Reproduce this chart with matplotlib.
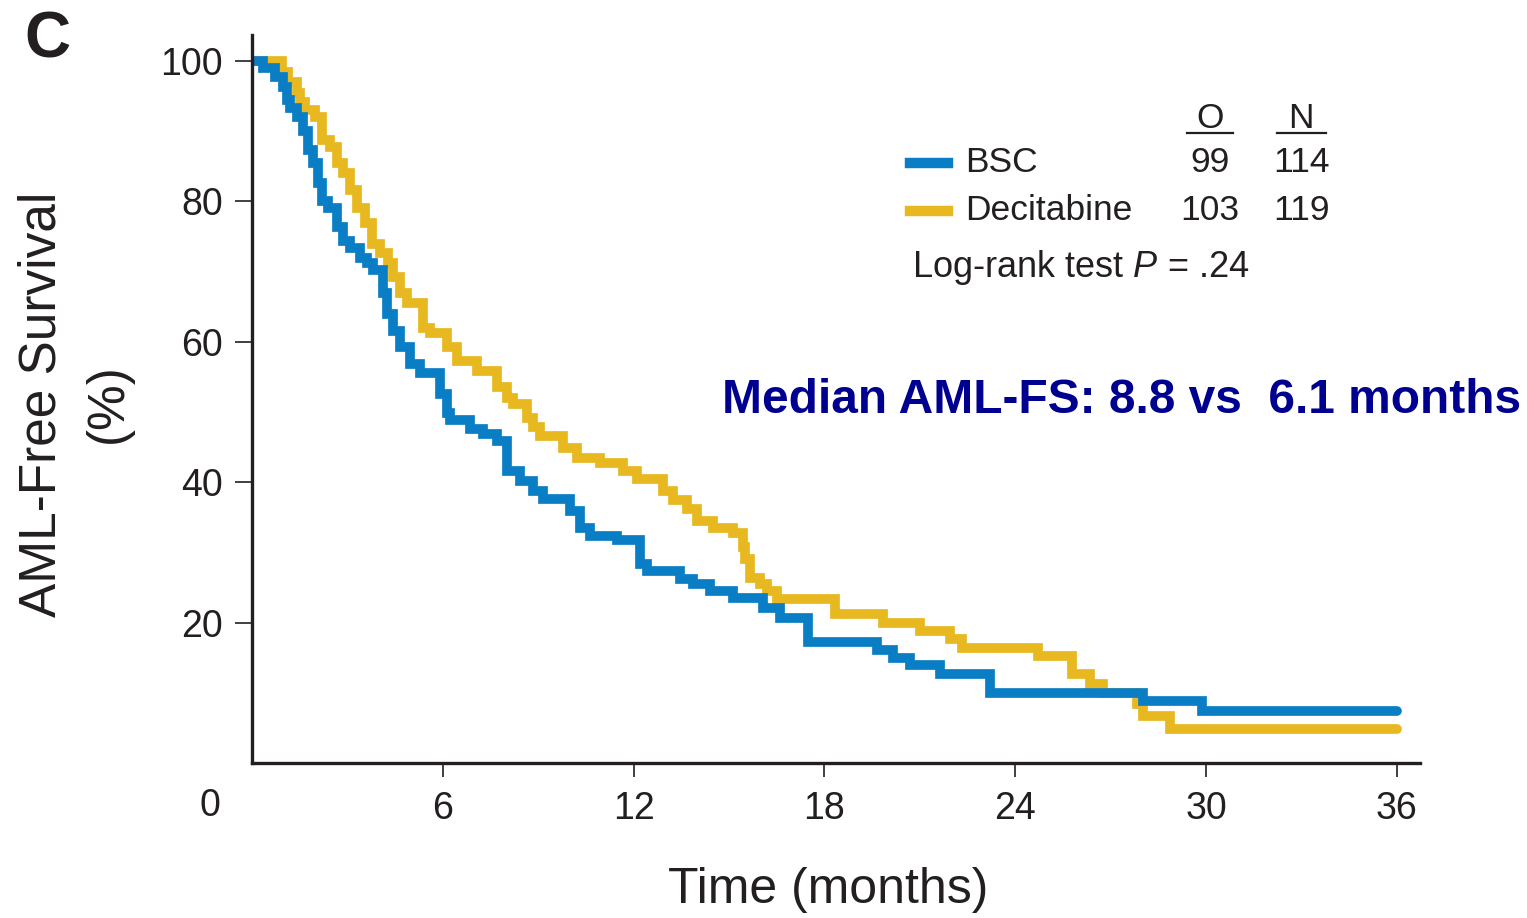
# Kaplan-Meier style AML-free survival, BSC vs Decitabine (panel C)
import matplotlib
matplotlib.use("Agg")
import matplotlib.pyplot as plt
from matplotlib.lines import Line2D

plt.rcParams["font.family"] = ["Liberation Sans", "DejaVu Sans"]
plt.rcParams["mathtext.fontset"] = "custom"
plt.rcParams["mathtext.rm"] = "Liberation Sans"
plt.rcParams["mathtext.it"] = "Liberation Sans:italic"

# ─────────────────────────────────────────────
# DATA: step start times (months) and survival (%)
# ─────────────────────────────────────────────
bsc_time = [0, 0.35, 0.72, 0.97, 1.10, 1.19, 1.42, 1.60, 1.76, 1.92, 2.08, 2.20,
            2.39, 2.67, 2.86, 3.08, 3.40, 3.62, 3.81, 4.12, 4.25, 4.43, 4.65,
            4.97, 5.28, 5.91, 6.13, 6.23, 6.86, 7.26, 7.70, 8.02, 8.43, 8.84,
            9.15, 10.0, 10.31, 10.63, 11.48, 12.20, 12.42, 13.46, 13.87, 14.40,
            15.13, 16.07, 16.60, 17.48, 19.65, 20.16, 20.69, 21.64, 23.21,
            28.02, 29.87]
bsc_surv = [100, 99, 97.7, 96.3, 94.4, 93.3, 92, 90, 87.3, 85.4, 82.6, 80.1,
            79.1, 76.3, 74.4, 73.4, 72, 71.2, 70.2, 66.9, 64, 61.6, 59.2,
            56.9, 55.5, 52.6, 49.8, 48.8, 47.6, 46.9, 45.9, 41.6, 40.2, 38.8,
            37.6, 35.9, 33.5, 32.4, 31.7, 28.4, 27.4, 26.2, 25.5, 24.5,
            23.5, 22.1, 20.7, 17.3, 16.1, 15.0, 14.0, 12.7, 10.0,
            8.8, 7.4]

dec_time = [0, 0.94, 1.13, 1.42, 1.51, 1.67, 1.98, 2.20, 2.45, 2.67, 2.86, 3.08,
            3.30, 3.55, 3.77, 4.03, 4.28, 4.43, 4.65, 4.87, 5.38, 5.60, 6.13,
            6.45, 7.08, 7.70, 8.02, 8.21, 8.65, 8.84, 9.06, 9.78, 10.22, 10.94,
            11.67, 12.11, 12.92, 13.24, 13.68, 13.99, 14.50, 15.13, 15.44,
            15.50, 15.66, 15.97, 16.19, 16.51, 18.33, 19.84, 21.0, 21.95,
            22.33, 24.72, 25.79, 26.35, 26.76, 27.83, 28.02, 28.87]
dec_surv = [100, 98.4, 97, 95.4, 94.1, 93, 92, 88.7, 87.7, 85.4, 84, 81.6,
            79.1, 76.9, 74, 72.6, 71.2, 69.2, 66.9, 65.5, 62, 61.2, 59.2,
            57.3, 55.9, 53.5, 52, 51.2, 49.2, 47.8, 46.6, 44.9, 43.5, 42.8,
            41.6, 40.5, 38.8, 37.4, 36.2, 34.5, 33.5, 32.7, 30.7,
            29.0, 26.4, 25.5, 24.5, 23.4, 21.2, 20.0, 18.8, 17.7,
            16.4, 15.3, 12.7, 11.3, 9.9, 8.4, 6.7, 4.85]

follow_up_end = 36
x_ticks = [6, 12, 18, 24, 30, 36]
y_ticks = [20, 40, 60, 80, 100]

groups = ["BSC", "Decitabine"]
observed = [99, 103]
n_total = [114, 119]
p_value = ".24"
median_text = "Median AML-FS: 8.8 vs  6.1 months"

BLUE = "#0A7EC4"
GOLD = "#E8B821"
INK = "#231F20"

W, H = 1527, 918


def px(x, y):
    """pixel position in the reference -> figure fraction"""
    return x / W, 1 - y / H


# ─────────────────────────────────────────────
# FIGURE / AXES
# ─────────────────────────────────────────────
fig = plt.figure(figsize=(W / 100, H / 100), dpi=100)
ax = fig.add_axes([252 / W, 1 - 763 / H, (1420 - 252) / W, (763 - 35) / H])

for times, surv, color in [(dec_time, dec_surv, GOLD), (bsc_time, bsc_surv, BLUE)]:
    ax.step(times + [follow_up_end], surv + [surv[-1]], where="post",
            color=color, lw=7, solid_capstyle="round", solid_joinstyle="miter")

ax.set_xlim(0, 36.73)
ax.set_ylim(0, 103.7)

for side in ["top", "right"]:
    ax.spines[side].set_visible(False)
for side in ["left", "bottom"]:
    ax.spines[side].set_linewidth(2.4)
    ax.spines[side].set_color(INK)

ax.set_xticks(x_ticks)
ax.set_yticks(y_ticks)
ax.tick_params(axis="both", colors=INK, width=1.2, labelsize=27)
ax.tick_params(axis="x", length=10, pad=10)
ax.tick_params(axis="y", length=12, pad=9)

# origin label sits left of the y axis
fig.text(*px(210, 806), "0", fontsize=27, color=INK, ha="center", va="center")

# axis titles
fig.text(*px(828, 890), "Time (months)", fontsize=36, color=INK, ha="center",
         va="center")
fig.text(*px(42, 404), "AML-Free Survival", fontsize=37, color=INK,
         rotation=90, ha="center", va="center")
fig.text(*px(108, 403), "(%)", fontsize=37, color=INK,
         rotation=90, ha="center", va="center")

# panel letter
fig.text(*px(47, 40), "C", fontsize=46, fontweight="bold", color=INK,
         ha="center", va="center")

# ─────────────────────────────────────────────
# LEGEND TABLE (O / N)
# ─────────────────────────────────────────────
fs = 25.5
fig.text(*px(1210, 118), "O", fontsize=fs, color=INK, ha="center", va="center")
fig.text(*px(1301, 118), "N", fontsize=fs, color=INK, ha="center", va="center")
for x0, x1 in [(1187, 1233), (1277, 1326)]:
    fig.add_artist(Line2D([x0 / W, x1 / W], [1 - 133 / H] * 2, color=INK, lw=1.6))

row_y = [163, 211]
for name, o, n, y, color in zip(groups, observed, n_total, row_y, [BLUE, GOLD]):
    fig.add_artist(Line2D([910 / W, 948 / W], [1 - y / H] * 2, color=color, lw=7.5))
    fig.text(*px(965, y), name, fontsize=fs, color=INK, ha="left", va="center")
    fig.text(*px(1210, y), str(o), fontsize=fs, color=INK, ha="center", va="center")
    fig.text(*px(1301, y), str(n), fontsize=fs, color=INK, ha="center", va="center")

fig.text(*px(912, 268), f"Log-rank test $P$ = {p_value}", fontsize=26,
         color=INK, ha="left", va="center")

fig.text(*px(722, 400), median_text, fontsize=34.5, fontweight="bold",
         color="#000090", ha="left", va="center")

plt.savefig("out.png", dpi=100)
